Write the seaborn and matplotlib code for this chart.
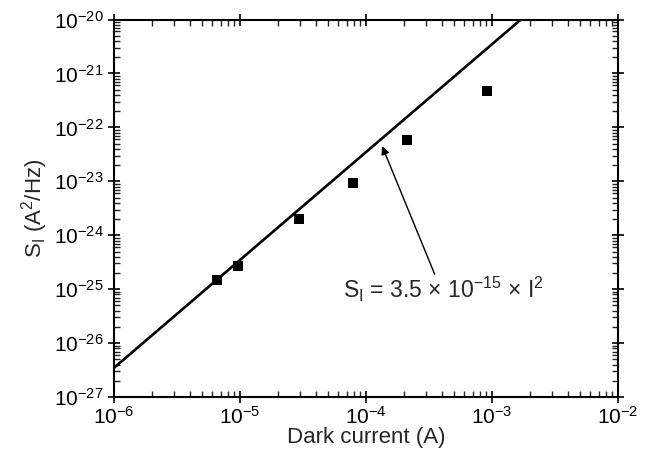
import numpy as np
import pandas as pd
import seaborn as sns
import matplotlib.pyplot as plt
from matplotlib.ticker import LogLocator

dark_current = [6.5e-6, 9.6e-6, 2.94e-5, 7.9e-5, 2.12e-4, 9.1e-4]
noise_psd = [1.5e-25, 2.7e-25, 2.0e-24, 9.5e-24, 5.9e-23, 4.7e-22]

# shot-noise fit given on the chart: S_I = 3.5e-15 * I^2
fit_coef = 3.5e-15
x_limits = [1e-6, 1e-2]
y_limits = [1e-27, 1e-20]

sns.set_theme(style='ticks')
plt.rcParams['font.family'] = ['Liberation Sans', 'DejaVu Sans']
plt.rcParams['mathtext.fontset'] = 'custom'
plt.rcParams['mathtext.rm'] = 'Liberation Sans'
plt.rcParams['mathtext.it'] = 'Liberation Sans'
plt.rcParams['mathtext.default'] = 'regular'

fig = plt.figure(figsize=(6.52, 4.65), dpi=100)
ax = fig.add_axes([0.175, 0.146, 0.773, 0.812])

fit_x = np.array(x_limits)
fit_df = pd.DataFrame({'I': fit_x, 'S': fit_coef * fit_x ** 2})
pts_df = pd.DataFrame({'I': dark_current, 'S': noise_psd})

sns.lineplot(data=fit_df, x='I', y='S', color='black', linewidth=1.9, ax=ax)
sns.scatterplot(data=pts_df, x='I', y='S', marker='s', s=55, color='black',
                edgecolor='black', linewidth=0, zorder=3, ax=ax)

ax.set_xscale('log')
ax.set_yscale('log')
ax.set_xlim(x_limits)
ax.set_ylim(y_limits)

ax.xaxis.set_major_locator(LogLocator(base=10, numticks=10))
ax.yaxis.set_major_locator(LogLocator(base=10, numticks=10))
ax.xaxis.set_minor_locator(LogLocator(base=10, subs=np.arange(2, 10), numticks=20))
ax.yaxis.set_minor_locator(LogLocator(base=10, subs=np.arange(2, 10), numticks=20))

ax.tick_params(which='major', direction='inout', length=8, width=1.2,
               top=True, right=True, labelsize=15, colors='black')
ax.tick_params(axis='x', which='major', pad=2)
ax.tick_params(which='minor', direction='in', length=4, width=1.0,
               top=True, right=True)
for sp in ax.spines.values():
    sp.set_linewidth(1.5)
    sp.set_color('black')

ax.set_xlabel('Dark current (A)', fontsize=16, labelpad=0)
ax.set_ylabel(r'S$_\mathrm{I}$ (A$^2$/Hz)', fontsize=16, labelpad=3)

ax.annotate('', xy=(1.34e-4, 4.5e-23), xytext=(3.5e-4, 1.9e-25),
            arrowprops=dict(arrowstyle='-|>', color='black', lw=1.0,
                            mutation_scale=12, shrinkA=0, shrinkB=0))
ax.text(4.1e-4, 1.0e-25, r'S$_\mathrm{I}$ = 3.5 $\times$ 10$^{-15}$ $\times$ I$^2$',
        fontsize=16.5, ha='center', va='center')

fig.savefig('out.png', dpi=100)
